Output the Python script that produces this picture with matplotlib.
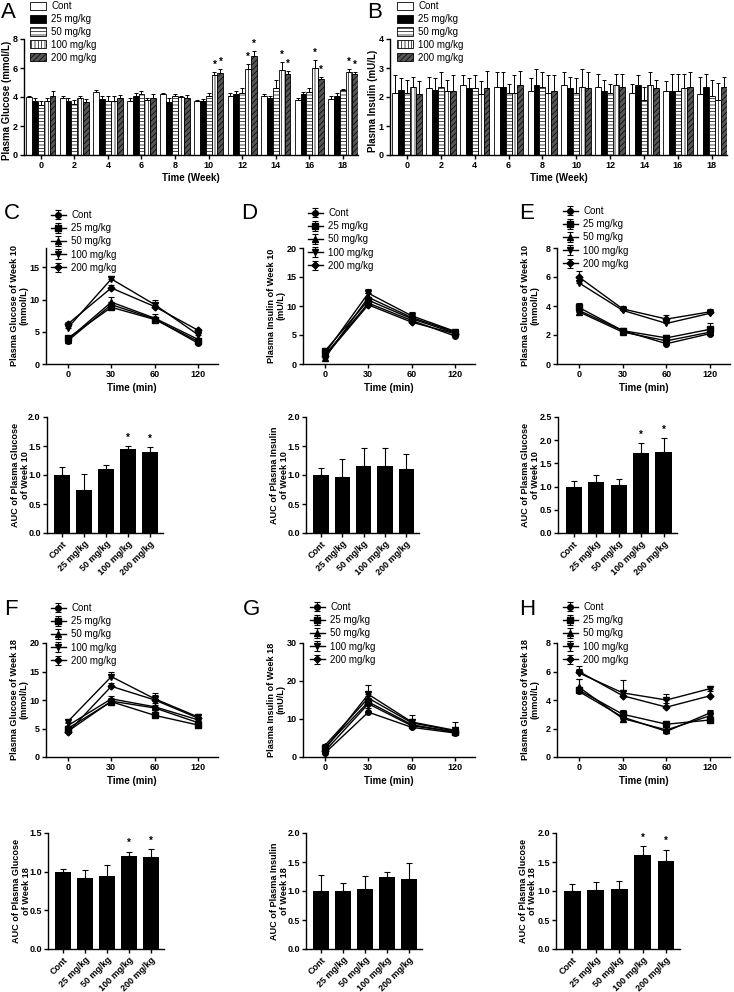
import matplotlib.pyplot as plt
import numpy as np

plt.rcParams['font.family'] = ['Liberation Sans', 'DejaVu Sans']
plt.rcParams['hatch.linewidth'] = 0.5

# ---- data ----
doses = ['Cont', '25 mg/kg', '50 mg/kg', '100 mg/kg', '200 mg/kg']
weeks = [0, 2, 4, 6, 8, 10, 12, 14, 16, 18]
ogtt_times = ['0', '30', '60', '120']

# A: plasma glucose by week (one row per dose)
glu_week = [
    [4.0, 3.95, 4.35, 3.7, 4.2, 3.7, 4.1, 4.1, 3.8, 3.85],
    [3.7, 3.7, 3.85, 4.1, 3.65, 3.7, 4.2, 3.9, 4.2, 4.1],
    [3.45, 3.55, 3.7, 4.2, 4.05, 4.1, 4.3, 4.65, 4.35, 4.45],
    [3.7, 3.9, 3.7, 3.8, 4.0, 5.5, 5.9, 5.85, 6.0, 5.75],
    [4.05, 3.65, 3.95, 3.95, 3.95, 5.65, 6.85, 5.6, 5.25, 5.6],
]
glu_week_err = [
    [0.1, 0.1, 0.15, 0.25, 0.05, 0.1, 0.2, 0.1, 0.1, 0.2],
    [0.25, 0.25, 0.2, 0.15, 0.25, 0.15, 0.2, 0.2, 0.15, 0.2],
    [0.3, 0.25, 0.35, 0.2, 0.15, 0.15, 0.35, 0.55, 0.25, 0.1],
    [0.2, 0.15, 0.35, 0.15, 0.1, 0.2, 0.35, 0.55, 0.55, 0.2],
    [0.35, 0.2, 0.2, 0.25, 0.2, 0.25, 0.3, 0.2, 0.15, 0.1],
]
glu_week_sig = [(5, 3), (5, 4), (6, 3), (6, 4), (7, 3), (7, 4), (8, 3), (8, 4), (9, 3), (9, 4)]

# B: plasma insulin by week
ins_week = [
    [2.15, 2.3, 2.4, 2.35, 2.2, 2.4, 2.35, 2.15, 2.2, 2.1],
    [2.25, 2.25, 2.3, 2.35, 2.4, 2.3, 2.2, 2.4, 2.2, 2.35],
    [2.15, 2.35, 2.3, 2.15, 2.35, 2.15, 2.15, 1.9, 2.2, 2.05],
    [2.35, 2.2, 2.1, 2.15, 2.15, 2.35, 2.4, 2.4, 2.3, 1.9],
    [2.1, 2.2, 2.3, 2.4, 2.2, 2.3, 2.35, 2.3, 2.35, 2.35],
]
ins_week_err = [
    [0.6, 0.4, 0.35, 0.5, 0.45, 0.45, 0.45, 0.3, 0.35, 0.6],
    [0.4, 0.4, 0.35, 0.5, 0.55, 0.4, 0.4, 0.35, 0.6, 0.45],
    [0.45, 0.5, 0.45, 0.3, 0.5, 0.5, 0.3, 0.45, 0.6, 0.55],
    [0.35, 0.4, 0.45, 0.6, 0.6, 0.6, 0.4, 0.45, 0.5, 0.6],
    [0.45, 0.55, 0.6, 0.5, 0.55, 0.55, 0.45, 0.3, 0.5, 0.35],
]

# C: glucose curve week 10
c_mean = [[3.6, 9.2, 7.0, 3.2], [4.0, 8.8, 6.9, 3.5], [3.8, 9.6, 7.1, 3.8],
          [5.6, 13.2, 9.2, 4.5], [6.2, 11.8, 8.9, 5.2]]
c_err = [[0.3, 0.4, 0.3, 0.3], [0.4, 0.5, 0.4, 0.3], [0.3, 0.8, 0.7, 0.3],
         [0.4, 0.4, 0.7, 0.4], [0.3, 0.4, 0.5, 0.3]]
c_auc = [1.0, 0.75, 1.1, 1.45, 1.4]
c_auc_err = [0.14, 0.26, 0.08, 0.05, 0.08]

# D: insulin curve week 10
d_mean = [[1.5, 10.5, 7.5, 4.8], [2.2, 11.0, 7.8, 5.3], [1.0, 11.5, 8.0, 5.5],
          [1.8, 12.2, 8.3, 5.6], [1.3, 10.2, 7.2, 5.2]]
d_err = [[0.4, 0.5, 0.4, 0.3], [0.4, 0.6, 0.4, 0.3], [0.3, 0.7, 0.5, 0.3],
         [0.4, 0.8, 0.6, 0.3], [0.3, 0.5, 0.4, 0.3]]
d_auc = [1.0, 0.97, 1.15, 1.15, 1.1]
d_auc_err = [0.12, 0.31, 0.31, 0.32, 0.27]

# E: glucose curve week 10 (second test)
e_mean = [[3.7, 2.3, 1.4, 2.1], [3.9, 2.3, 1.8, 2.4], [3.6, 2.2, 1.6, 2.2],
          [5.6, 3.7, 2.8, 3.5], [6.0, 3.8, 3.1, 3.6]]
e_err = [[0.2, 0.2, 0.15, 0.2], [0.3, 0.2, 0.2, 0.4], [0.2, 0.2, 0.2, 0.2],
         [0.3, 0.2, 0.3, 0.2], [0.4, 0.2, 0.3, 0.2]]
e_auc = [1.0, 1.1, 1.03, 1.72, 1.75]
e_auc_err = [0.12, 0.15, 0.13, 0.22, 0.3]

# F: glucose curve week 18
f_mean = [[4.5, 9.8, 8.6, 6.0], [5.0, 9.7, 7.3, 5.6], [5.5, 10.2, 8.8, 6.5],
          [6.2, 14.1, 10.2, 7.0], [4.3, 12.4, 10.0, 6.8]]
f_err = [[0.3, 0.5, 0.5, 0.4], [0.4, 0.4, 0.4, 0.4], [0.4, 0.5, 0.6, 0.5],
         [0.4, 0.9, 1.1, 0.6], [0.3, 0.6, 0.8, 0.5]]
f_auc = [1.0, 0.92, 0.94, 1.2, 1.19]
f_auc_err = [0.03, 0.1, 0.14, 0.06, 0.1]

# G: insulin curve week 18
g_mean = [[1.0, 11.8, 7.8, 6.3], [2.5, 14.5, 8.5, 6.5], [3.0, 15.5, 9.0, 6.8],
          [2.0, 16.5, 9.2, 7.0], [1.5, 14.0, 8.2, 6.6]]
g_err = [[0.5, 1.0, 0.6, 0.5], [0.6, 1.5, 0.8, 0.6], [0.5, 1.5, 1.0, 0.8],
         [0.5, 2.5, 1.8, 2.3], [0.4, 1.5, 1.0, 0.8]]
g_auc = [1.0, 1.0, 1.03, 1.25, 1.2]
g_auc_err = [0.27, 0.13, 0.23, 0.08, 0.28]

# H: glucose curve week 18 (second test)
h_mean = [[4.6, 2.8, 1.8, 3.1], [4.7, 3.0, 2.3, 2.6], [4.9, 2.7, 1.9, 2.9],
          [5.9, 4.5, 4.0, 4.8], [6.0, 4.3, 3.5, 4.3]]
h_err = [[0.3, 0.3, 0.2, 0.2], [0.8, 0.3, 0.2, 0.2], [0.6, 0.3, 0.2, 0.3],
         [0.3, 0.9, 0.4, 0.2], [0.4, 0.3, 0.3, 0.3]]
h_auc = [1.0, 1.02, 1.04, 1.62, 1.52]
h_auc_err = [0.12, 0.13, 0.14, 0.15, 0.19]

# ---- styles ----
W, H = 734, 992
markers = ['o', 's', '^', 'v', 'D']
faces = ['white', 'black', 'white', 'white', '#555555']
hatches = [None, None, '-----', '|||||', '//////']
bold = dict(fontweight='bold')

fig = plt.figure(figsize=(W / 100, H / 100), dpi=100)


def box(l, r, t, b):
    return [l / W, 1 - b / H, (r - l) / W, (b - t) / H]


def style(ax):
    for s in ['top', 'right']:
        ax.spines[s].set_visible(False)
    for s in ['left', 'bottom']:
        ax.spines[s].set_linewidth(1.0)
    ax.tick_params(width=1, length=3, labelsize=6.5, pad=1.5)
    for lab in ax.get_xticklabels() + ax.get_yticklabels():
        lab.set_fontweight('bold')


def letter(ch, x, y):
    fig.text(x / W, 1 - y / H, ch, fontsize=16, va='top', ha='left')


def week_bars(ax, means, errs, ymax, yticks, ylabel, legx):
    x = np.arange(len(weeks))
    w = 0.175
    for i in range(5):
        pos = x + (i - 2) * w
        ax.bar(pos, means[i], w, color=faces[i], edgecolor='black', hatch=hatches[i],
               linewidth=0.6, label=doses[i],
               yerr=[np.zeros(len(weeks)), errs[i]], capsize=1.2,
               error_kw=dict(elinewidth=0.7, capthick=0.7, ecolor='black'))
    ax.set_xlim(-0.5, 9.45)
    ax.set_ylim(0, ymax)
    ax.set_yticks(yticks)
    ax.set_xticks(x)
    ax.set_xticklabels([str(wk) for wk in weeks])
    ax.set_xlabel('Time (Week)', fontsize=7, labelpad=2, **bold)
    ax.set_ylabel(ylabel, fontsize=7, **bold)
    style(ax)
    ax.legend(loc='upper left', bbox_to_anchor=(legx / W, 1 - 1 / H),
              bbox_transform=fig.transFigure, frameon=False, fontsize=7,
              handlelength=1.6, handleheight=0.9, handletextpad=0.6,
              labelspacing=0.3, borderpad=0, borderaxespad=0)


def curve(ax, means, errs, ymax, yticks, ylabel, legx, legy):
    x = np.arange(4)
    for i in range(5):
        ax.errorbar(x, means[i], yerr=[np.zeros(4), errs[i]], color='black',
                    marker=markers[i], markersize=4 if markers[i] != 'D' else 3.5,
                    lw=1, elinewidth=0.8, capsize=2, capthick=0.8, label=doses[i])
    ax.set_xlim(-0.5, 3.45)
    ax.set_ylim(0, ymax)
    ax.set_yticks(yticks)
    ax.set_xticks(x)
    ax.set_xticklabels(ogtt_times)
    ax.set_xlabel('Time (min)', fontsize=7, labelpad=3, **bold)
    ax.set_ylabel(ylabel, fontsize=6.6, linespacing=1.1, **bold)
    ax.yaxis.set_label_coords(-0.1, 0.5)
    style(ax)
    ax.legend(loc='upper left', bbox_to_anchor=(legx / W, 1 - legy / H),
              bbox_transform=fig.transFigure, frameon=False, fontsize=7,
              handlelength=1.5, handletextpad=0.6, labelspacing=0.33,
              borderpad=0, borderaxespad=0)


def auc(ax, vals, errs, ymax, yticks, ylabel, stars):
    x = np.arange(5)
    ax.bar(x, vals, 0.72, color='black', yerr=[np.zeros(5), errs], capsize=2.5,
           error_kw=dict(elinewidth=0.8, capthick=0.8, ecolor='black'))
    for i in stars:
        ax.text(i, vals[i] + errs[i] + ymax * 0.03, '*', ha='center', va='bottom',
                fontsize=7, **bold)
    ax.set_xlim(-0.7, 4.6)
    ax.set_ylim(0, ymax)
    ax.set_yticks(yticks)
    ax.set_yticklabels(['%.1f' % t for t in yticks])
    ax.set_xticks(x)
    ax.set_xticklabels(doses, rotation=45, ha='right', rotation_mode='anchor')
    ax.set_ylabel(ylabel, fontsize=6.6, linespacing=1.1, **bold)
    ax.yaxis.set_label_coords(-0.15, 0.5)
    style(ax)


# ---- row 1 ----
axA = fig.add_axes(box(24, 358, 39, 155))
week_bars(axA, glu_week, glu_week_err, 8, [0, 2, 4, 6, 8], 'Plasma Glucose (mmol/L)', 30)
axA.yaxis.set_label_coords(-0.036, 0.47)
for g, d in glu_week_sig:
    top = glu_week[d][g] + glu_week_err[d][g]
    axA.text(g + (d - 2) * 0.175, top + 0.15, '*', ha='center', va='bottom', fontsize=7, **bold)

axB = fig.add_axes(box(390, 727, 39, 155))
week_bars(axB, ins_week, ins_week_err, 4, [0, 1, 2, 3, 4], 'Plasma Insulin (mU/L)', 397)
axB.yaxis.set_label_coords(-0.036, 0.47)

letter('A', 1, 2)
letter('B', 367, 2)

# ---- row 2 ----
axC = fig.add_axes(box(46, 218, 248, 364))
curve(axC, c_mean, c_err, 18, [0, 5, 10, 15], 'Plasma Glucose of Week 10\n(mmol/L)', 51, 210)
axD = fig.add_axes(box(303, 475, 248, 364))
curve(axD, d_mean, d_err, 20, [0, 5, 10, 15, 20], 'Plasma Insulin of Week 10\n(mU/L)', 308, 208)
axE = fig.add_axes(box(557, 730, 248, 364))
curve(axE, e_mean, e_err, 8, [0, 2, 4, 6, 8], 'Plasma Glucose of Week 10\n(mmol/L)', 563, 206)

axC2 = fig.add_axes(box(47, 163, 417, 533))
auc(axC2, c_auc, c_auc_err, 2.0, [0, 0.5, 1.0, 1.5, 2.0], 'AUC of Plasma Glucose\nof Week 10', [3, 4])
axD2 = fig.add_axes(box(306, 419, 417, 533))
auc(axD2, d_auc, d_auc_err, 2.0, [0, 0.5, 1.0, 1.5, 2.0], 'AUC of Plasma Insulin\nof Week 10', [])
axE2 = fig.add_axes(box(558, 677, 417, 533))
auc(axE2, e_auc, e_auc_err, 2.5, [0, 0.5, 1.0, 1.5, 2.0, 2.5], 'AUC of Plasma Glucose\nof Week 10', [3, 4])

letter('C', 4, 203)
letter('D', 241, 203)
letter('E', 519, 203)

# ---- row 3 ----
axF = fig.add_axes(box(46, 218, 643, 757))
curve(axF, f_mean, f_err, 20, [0, 5, 10, 15, 20], 'Plasma Glucose of Week 18\n(mmol/L)', 51, 603)
axG = fig.add_axes(box(303, 475, 643, 757))
curve(axG, g_mean, g_err, 30, [0, 10, 20, 30], 'Plasma Insulin of Week 18\n(mU/L)', 310, 602)
axH = fig.add_axes(box(557, 730, 643, 757))
curve(axH, h_mean, h_err, 8, [0, 2, 4, 6, 8], 'Plasma Glucose of Week 18\n(mmol/L)', 563, 602)

axF2 = fig.add_axes(box(48, 164, 833, 949))
auc(axF2, f_auc, f_auc_err, 1.5, [0, 0.5, 1.0, 1.5], 'AUC of Plasma Glucose\nof Week 18', [3, 4])
axG2 = fig.add_axes(box(306, 422, 833, 949))
auc(axG2, g_auc, g_auc_err, 2.0, [0, 0.5, 1.0, 1.5, 2.0], 'AUC of Plasma Insulin\nof Week 18', [])
axH2 = fig.add_axes(box(556, 680, 833, 949))
auc(axH2, h_auc, h_auc_err, 2.0, [0, 0.5, 1.0, 1.5, 2.0], 'AUC of Plasma Glucose\nof Week 18', [3, 4])

letter('F', 4, 599)
letter('G', 243, 599)
letter('H', 519, 599)

fig.savefig('out.png', dpi=100)
